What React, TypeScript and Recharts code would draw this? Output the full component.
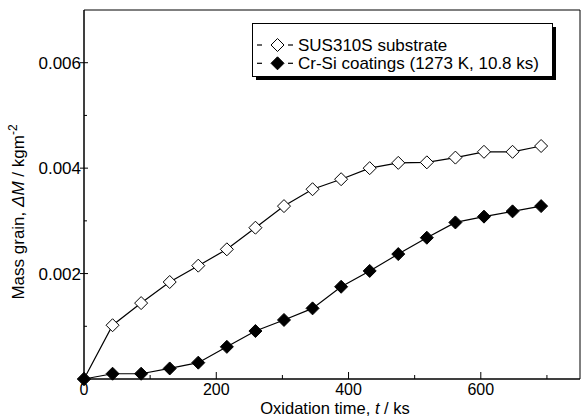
import React from "react";
import { LineChart, Line, XAxis, YAxis, ReferenceArea } from "recharts";

const FONT = '"Liberation Sans", Arial, sans-serif';

// oxidation time, ks (10.8 ks steps x4)
const TIME = [0, 43.2, 86.4, 129.6, 172.8, 216, 259.2, 302.4, 345.6, 388.8, 432, 475.2, 518.4, 561.6, 604.8, 648, 691.2];
const SUBSTRATE = [0, 0.00102, 0.00144, 0.00184, 0.00215, 0.00246, 0.00287, 0.00328, 0.0036, 0.00379, 0.004, 0.0041, 0.00411, 0.0042, 0.00431, 0.00431, 0.00442];
const COATING = [0, 0.0001, 0.0001, 0.0002, 0.00031, 0.00061, 0.00091, 0.00112, 0.00134, 0.00175, 0.00205, 0.00237, 0.00268, 0.00297, 0.00308, 0.00318, 0.00328];

const X_TICKS = [0, 100, 200, 300, 400, 500, 600, 700];
const Y_TICKS = [0, 0.001, 0.002, 0.003, 0.004, 0.005, 0.006];

const LEGEND = [
  { label: "SUS310S substrate", filled: false },
  { label: "Cr-Si coatings (1273 K, 10.8 ks)", filled: true },
];

const rows = TIME.map((t, i) => ({ t, substrate: SUBSTRATE[i], coating: COATING[i] }));

function diamond(filled: boolean, r = 6.5) {
  return (props: any) => {
    const { cx, cy, index } = props;
    if (cx == null || cy == null) return <g key={index} />;
    return (
      <polygon
        key={index}
        points={`${cx},${cy - r} ${cx + r},${cy} ${cx},${cy + r} ${cx - r},${cy}`}
        fill={filled ? "#000" : "#fff"}
        stroke="#000"
        strokeWidth={1}
      />
    );
  };
}

function XTick({ x, y, payload }: any) {
  const major = payload.value % 200 === 0;
  return (
    <g>
      <line x1={x} x2={x} y1={y} y2={y - (major ? 7 : 4)} stroke="#000" />
      {major && (
        <text x={x} y={y + 16} textAnchor="middle" fontSize={16} fontFamily={FONT} fill="#000">
          {payload.value}
        </text>
      )}
    </g>
  );
}

function YTick({ x, y, payload }: any) {
  const k = Math.round(payload.value * 1000);
  const major = k > 0 && k % 2 === 0;
  if (k === 0) return <g />;
  return (
    <g>
      <line x1={major ? x - 4 : x} x2={x + (major ? 4 : 3)} y1={y} y2={y} stroke="#000" />
      {major && (
        <text x={x - 3} y={y + 6} textAnchor="end" fontSize={17} fontFamily={FONT} fill="#000">
          {payload.value.toFixed(3)}
        </text>
      )}
    </g>
  );
}

function LegendBox() {
  return (
    <svg width={306} height={60} style={{ position: "absolute", left: 252, top: 23 }}>
      <rect x={4} y={4} width={300} height={53} fill="#000" />
      <rect x={0.5} y={0.5} width={300} height={53} fill="#fff" stroke="#000" />
      {LEGEND.map((item, i) => {
        const cy = 22 + i * 18.3;
        return (
          <g key={item.label}>
            <line x1={5} x2={10} y1={cy} y2={cy} stroke="#000" strokeWidth={1.2} />
            <polygon
              points={`${25.5},${cy - 6.5} ${32},${cy} ${25.5},${cy + 6.5} ${19},${cy}`}
              fill={item.filled ? "#000" : "#fff"}
              stroke="#000"
            />
            <line x1={36} x2={41} y1={cy} y2={cy} stroke="#000" strokeWidth={1.2} />
            <text x={46} y={cy + 6} fontSize={17} fontFamily={FONT} fill="#000">
              {item.label}
            </text>
          </g>
        );
      })}
    </svg>
  );
}

export default function App() {
  return (
    <div style={{ position: "absolute", left: 0, top: 0, width: 581, height: 417, background: "#fff" }}>
      <LineChart width={581} height={417} data={rows} margin={{ top: 10, right: 1, left: 0, bottom: 0 }}>
        <ReferenceArea x1={0} x2={750} y1={0} y2={0.007} fill="none" stroke="#000" strokeWidth={1} />
        <XAxis
          dataKey="t"
          type="number"
          domain={[0, 750]}
          ticks={X_TICKS}
          interval={0}
          height={38}
          tickSize={0}
          tickMargin={0}
          tickLine={false}
          tick={<XTick />}
          axisLine={{ stroke: "#000" }}
        />
        <YAxis
          type="number"
          domain={[0, 0.007]}
          ticks={Y_TICKS}
          interval={0}
          width={84}
          tickSize={0}
          tickMargin={0}
          tickLine={false}
          tick={<YTick />}
          axisLine={{ stroke: "#000" }}
        />
        <Line
          dataKey="substrate"
          stroke="#000"
          strokeWidth={1.2}
          dot={diamond(false)}
          isAnimationActive={false}
        />
        <Line
          dataKey="coating"
          stroke="#000"
          strokeWidth={1.2}
          dot={diamond(true)}
          isAnimationActive={false}
        />
      </LineChart>
      <svg width={581} height={417} style={{ position: "absolute", left: 0, top: 0, pointerEvents: "none" }}>
        <text
          transform="translate(24, 212) rotate(-90)"
          textAnchor="middle"
          fontSize={17}
          fontFamily={FONT}
          fill="#000"
        >
          Mass grain, <tspan fontStyle="italic">ΔM</tspan> / kgm
          <tspan dy={-7} fontSize={12}>-2</tspan>
        </text>
        <text x={335} y={414} textAnchor="middle" fontSize={16.5} fontFamily={FONT} fill="#000">
          Oxidation time, <tspan fontStyle="italic">t</tspan> / ks
        </text>
      </svg>
      <LegendBox />
    </div>
  );
}
